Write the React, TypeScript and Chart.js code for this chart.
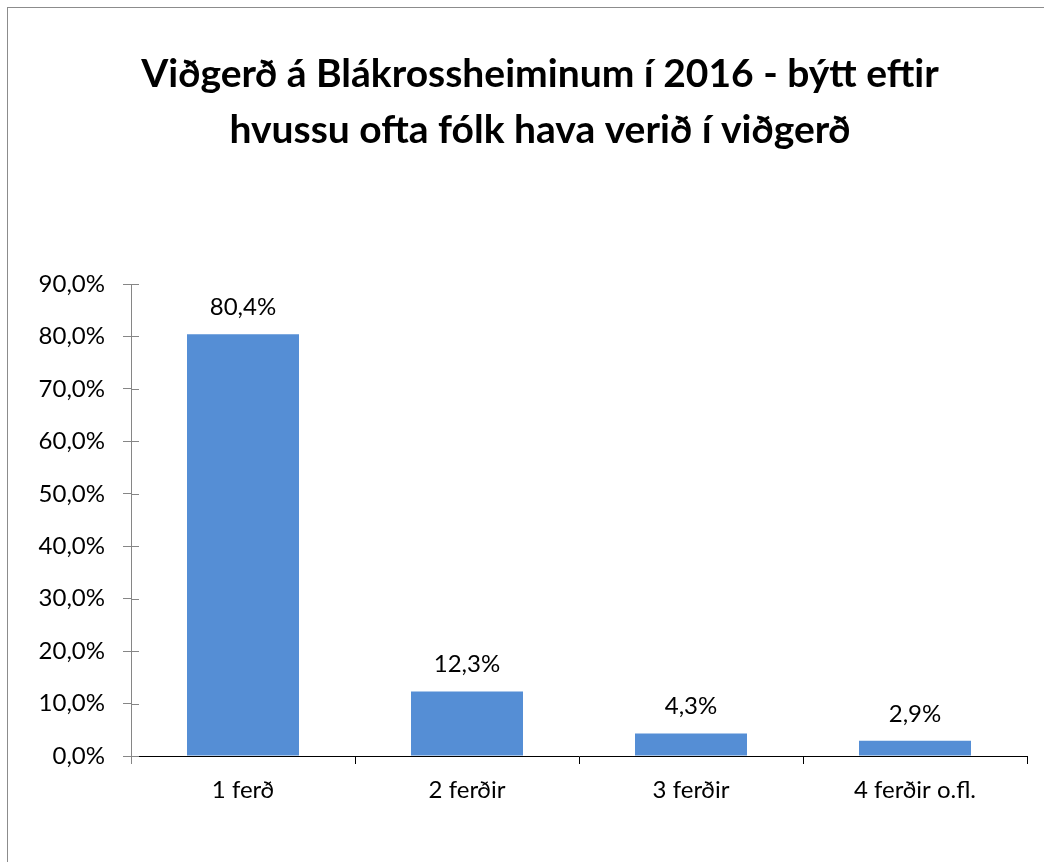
import React, { useEffect, useRef } from "react";
import { Chart, registerables } from "chart.js";

Chart.register(...registerables);

const categories = ["1 ferð", "2 ferðir", "3 ferðir", "4 ferðir o.fl."];
const values = [80.4, 12.3, 4.3, 2.9];
const titleLines = [
  "Viðgerð á Blákrossheiminum í 2016 - býtt eftir",
  "hvussu ofta fólk hava verið í viðgerð",
];
const yMax = 90;
const yStep = 10;

const FONT = "Lato, 'Open Sans', sans-serif";

const fmt = (v: number, d: number) => v.toFixed(d).replace(".", ",") + "%";

const titlePlugin = {
  id: "customTitle",
  afterDraw(chart: any) {
    const ctx = chart.ctx;
    ctx.save();
    ctx.font = `bold 39px ${FONT}`;
    ctx.fillStyle = "#000";
    ctx.textAlign = "center";
    ctx.textBaseline = "alphabetic";
    titleLines.forEach((line, i) => {
      ctx.fillText(line, 532, 79 + i * 56);
    });
    ctx.restore();
  },
};

const valueLabels = {
  id: "valueLabels",
  afterDatasetsDraw(chart: any) {
    const ctx = chart.ctx;
    const meta = chart.getDatasetMeta(0);
    ctx.save();
    ctx.font = `24px ${FONT}`;
    ctx.fillStyle = "#000";
    ctx.textAlign = "center";
    ctx.textBaseline = "alphabetic";
    meta.data.forEach((el: any, i: number) => {
      ctx.fillText(fmt(values[i], 1), el.x, el.y - 19);
    });
    ctx.restore();
  },
};

const innerTicks = {
  id: "innerTicks",
  afterDraw(chart: any) {
    const ctx = chart.ctx;
    const y = chart.scales.y;
    const left = chart.chartArea.left;
    ctx.save();
    ctx.strokeStyle = "#868686";
    ctx.lineWidth = 1;
    y.ticks.forEach((t: any) => {
      const py = Math.round(y.getPixelForValue(t.value)) + 0.5;
      ctx.beginPath();
      ctx.moveTo(left, py);
      ctx.lineTo(left + 8, py);
      ctx.stroke();
    });
    const bottom = chart.chartArea.bottom;
    ctx.beginPath();
    ctx.moveTo(Math.round(left) + 0.5, bottom);
    ctx.lineTo(Math.round(left) + 0.5, bottom + 8);
    ctx.stroke();
    ctx.restore();
  },
};

export default function App() {
  const ref = useRef<HTMLCanvasElement | null>(null);
  useEffect(() => {
    if (!ref.current) return;
    const chart = new Chart(ref.current, {
      type: "bar",
      data: {
        labels: categories,
        datasets: [
          {
            data: values,
            backgroundColor: "#558ED5",
            borderWidth: 0,
            categoryPercentage: 1,
            barPercentage: 0.5,
          },
        ],
      },
      plugins: [valueLabels, innerTicks, titlePlugin],
      options: {
        animation: false,
        responsive: false,
        maintainAspectRatio: false,
        layout: { padding: { left: 0, right: 17, top: 276, bottom: 0 } },
        plugins: {
          legend: { display: false },
          tooltip: { enabled: false },
          title: { display: false },
        },
        scales: {
          x: {
            offset: true,
            grid: {
              offset: true,
              drawOnChartArea: false,
              drawTicks: true,
              tickLength: 8,
              color: "#000",
            },
            border: { color: "#000", width: 1 },
            ticks: {
              color: "#000",
              font: { family: FONT, size: 24 },
              padding: 12,
              maxRotation: 0,
            },
            afterFit(scale: any) {
              scale.height = 106;
            },
          },
          y: {
            min: 0,
            max: yMax,
            ticks: {
              stepSize: yStep,
              color: "#000",
              font: { family: FONT, size: 24 },
              padding: 18,
              callback: (v: any) => fmt(Number(v), 1),
            },
            grid: {
              drawOnChartArea: false,
              drawTicks: true,
              tickLength: 8,
              color: "#868686",
            },
            border: { color: "#868686", width: 1 },
            afterFit(scale: any) {
              scale.width = 123;
            },
          },
        },
      },
    });
    return () => chart.destroy();
  }, []);
  return (
    <div
      style={{
        position: "absolute",
        left: 7,
        top: 7,
        borderTop: "1px solid #8c8c8c",
        borderLeft: "1px solid #8c8c8c",
        width: 1037,
        height: 855,
        overflow: "hidden",
      }}
    >
      <canvas ref={ref} width={1036} height={854} style={{ display: "block", width: 1036, height: 854 }} />
    </div>
  );
}
